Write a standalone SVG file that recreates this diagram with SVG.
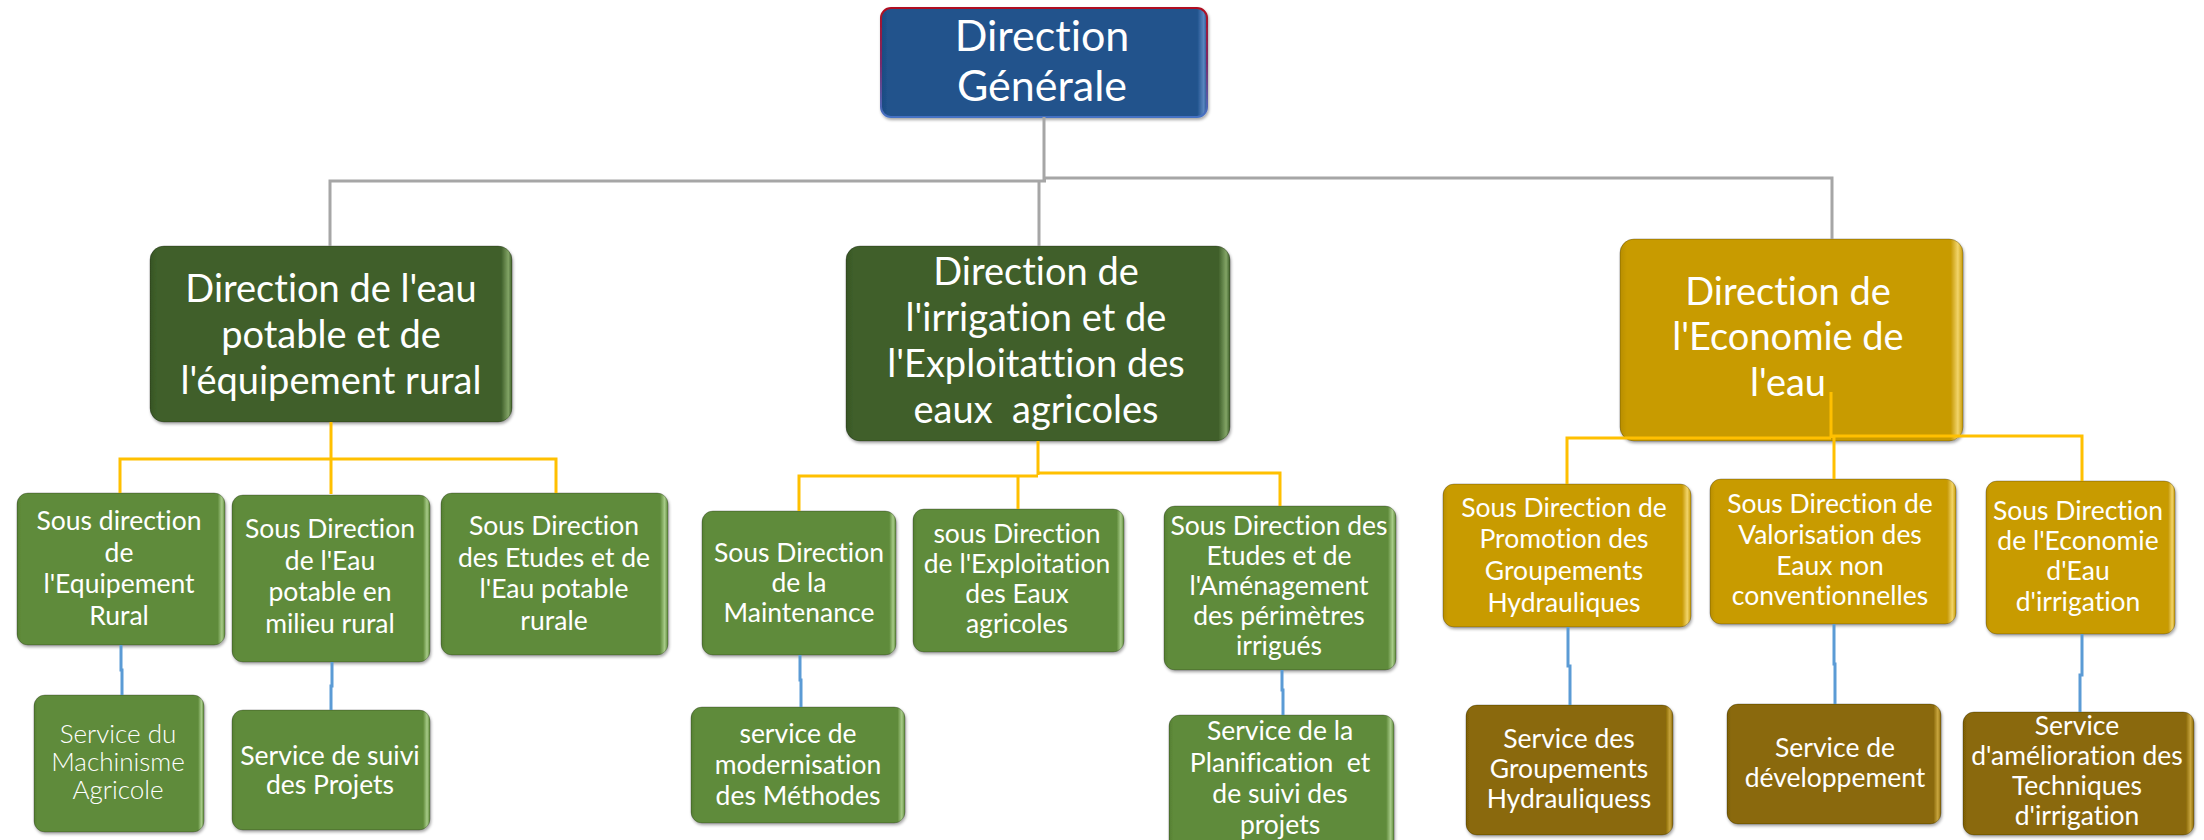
<svg xmlns="http://www.w3.org/2000/svg" width="2204" height="840" viewBox="0 0 2204 840">
<defs>
<linearGradient id="gBlue" x1="0" y1="0" x2="1" y2="0"><stop offset="0" stop-color="#1C4A80"/><stop offset="0.02" stop-color="#20528C"/><stop offset="0.97" stop-color="#20528C"/><stop offset="0.99" stop-color="#5B86C0"/><stop offset="1" stop-color="#20528C"/></linearGradient>
<linearGradient id="sBlue" x1="0" y1="0" x2="0" y2="1"><stop offset="0" stop-color="#B01020"/><stop offset="0.5" stop-color="#7A2A6A"/><stop offset="1" stop-color="#4472C4"/></linearGradient>
<linearGradient id="gDark" x1="0" y1="0" x2="1" y2="0"><stop offset="0" stop-color="#375524"/><stop offset="0.02" stop-color="#3F5F2A"/><stop offset="0.97" stop-color="#3F5F2A"/><stop offset="0.99" stop-color="#82A466"/><stop offset="1" stop-color="#3F5F2A"/></linearGradient>
<linearGradient id="gMid" x1="0" y1="0" x2="1" y2="0"><stop offset="0" stop-color="#557F33"/><stop offset="0.02" stop-color="#5F8B3A"/><stop offset="0.965" stop-color="#5F8B3A"/><stop offset="0.985" stop-color="#A7CB88"/><stop offset="1" stop-color="#5F8B3A"/></linearGradient>
<linearGradient id="gGold" x1="0" y1="0" x2="1" y2="0"><stop offset="0" stop-color="#B88E04"/><stop offset="0.02" stop-color="#C89B06"/><stop offset="0.965" stop-color="#C89B06"/><stop offset="0.985" stop-color="#F2D46A"/><stop offset="1" stop-color="#C89B06"/></linearGradient>
<linearGradient id="gBrown" x1="0" y1="0" x2="1" y2="0"><stop offset="0" stop-color="#7C5E06"/><stop offset="0.02" stop-color="#8A6907"/><stop offset="0.965" stop-color="#8A6907"/><stop offset="0.985" stop-color="#C9A63E"/><stop offset="1" stop-color="#8A6907"/></linearGradient>
<filter id="sh" x="-5%" y="-5%" width="112%" height="115%"><feDropShadow dx="1" dy="2" stdDeviation="1.5" flood-color="#000" flood-opacity="0.35"/></filter>
</defs>
<style>
rect{stroke:rgba(0,0,0,0.25);stroke-width:1;filter:url(#sh)}
text{font-family:Lato,"Open Sans","Liberation Sans",sans-serif;fill:#fff;text-anchor:middle;font-variant-ligatures:none;font-feature-settings:"liga" 0,"clig" 0}
.t0{font-size:43px}
.t1{font-size:38px}
.t2{font-size:26.5px}
.lt{font-weight:300;font-size:26px}
.c{fill:none;stroke-width:3}
.gray{stroke:#A6A6A6}
.yel{stroke:#FFC000}
.blu{stroke:#5B9BD5}
</style>

<g id="dg"><rect x="881" y="8" width="326" height="109" rx="10" fill="url(#gBlue)" style="stroke:url(#sBlue);stroke-width:2"/>
<text class="t0" x="1042"><tspan x="1042" y="51">Direction</tspan><tspan x="1042" y="101">Générale</tspan></text></g>

<g id="d1"><rect x="150" y="246" width="362" height="176" rx="14" fill="url(#gDark)"/>
<text class="t1"><tspan x="331" y="302">Direction de l'eau</tspan><tspan x="331" y="348">potable et de</tspan><tspan x="331" y="394">l'équipement rural</tspan></text></g>

<g id="d2"><rect x="846" y="246" width="384" height="195" rx="14" fill="url(#gDark)"/>
<text class="t1" xml:space="preserve"><tspan x="1036" y="285">Direction de</tspan><tspan x="1036" y="331">l'irrigation et de</tspan><tspan x="1036" y="377">l'Exploitattion des</tspan><tspan x="1036" y="423">eaux  agricoles</tspan></text></g>

<g id="d3"><rect x="1620" y="239" width="343" height="202" rx="14" fill="url(#gGold)"/>
<text class="t1"><tspan x="1788" y="305">Direction de</tspan><tspan x="1788" y="350">l'Economie de</tspan><tspan x="1788" y="396">l'eau</tspan></text></g>

<g id="sd1a"><rect x="17" y="493" width="208" height="152" rx="11" fill="url(#gMid)"/>
<text class="t2"><tspan x="119" y="530">Sous direction</tspan><tspan x="119" y="562">de</tspan><tspan x="119" y="593">l'Equipement</tspan><tspan x="119" y="625">Rural</tspan></text></g>

<g id="sd1b"><rect x="232" y="495" width="198" height="167" rx="11" fill="url(#gMid)"/>
<text class="t2"><tspan x="330" y="538">Sous Direction</tspan><tspan x="330" y="570">de l'Eau</tspan><tspan x="330" y="601">potable en</tspan><tspan x="330" y="633">milieu rural</tspan></text></g>

<g id="sd1c"><rect x="441" y="493" width="227" height="162" rx="11" fill="url(#gMid)"/>
<text class="t2"><tspan x="554" y="535">Sous Direction</tspan><tspan x="554" y="567">des Etudes et de</tspan><tspan x="554" y="598">l'Eau potable</tspan><tspan x="554" y="630">rurale</tspan></text></g>

<g id="s1a"><rect x="34" y="695" width="170" height="137" rx="11" fill="url(#gMid)"/>
<text class="lt"><tspan x="118" y="743">Service du</tspan><tspan x="118" y="771">Machinisme</tspan><tspan x="118" y="799">Agricole</tspan></text></g>

<g id="s1b"><rect x="232" y="710" width="198" height="120" rx="11" fill="url(#gMid)"/>
<text class="t2"><tspan x="330" y="765">Service de suivi</tspan><tspan x="330" y="794">des Projets</tspan></text></g>

<g id="sd2a"><rect x="702" y="511" width="194" height="144" rx="11" fill="url(#gMid)"/>
<text class="t2"><tspan x="799" y="562">Sous Direction</tspan><tspan x="799" y="592">de la</tspan><tspan x="799" y="622">Maintenance</tspan></text></g>

<g id="sd2b"><rect x="913" y="509" width="211" height="143" rx="11" fill="url(#gMid)"/>
<text class="t2"><tspan x="1017" y="543">sous Direction</tspan><tspan x="1017" y="573">de l'Exploitation</tspan><tspan x="1017" y="603">des Eaux</tspan><tspan x="1017" y="633">agricoles</tspan></text></g>

<g id="sd2c"><rect x="1164" y="506" width="232" height="164" rx="11" fill="url(#gMid)"/>
<text class="t2"><tspan x="1279" y="535">Sous Direction des</tspan><tspan x="1279" y="565">Etudes et de</tspan><tspan x="1279" y="595">l'Aménagement</tspan><tspan x="1279" y="625">des périmètres</tspan><tspan x="1279" y="655">irrigués</tspan></text></g>

<g id="s2a"><rect x="691" y="707" width="214" height="116" rx="11" fill="url(#gMid)"/>
<text class="t2"><tspan x="798" y="743">service de</tspan><tspan x="798" y="774">modernisation</tspan><tspan x="798" y="805">des Méthodes</tspan></text></g>

<g id="s2c"><rect x="1169" y="715" width="225" height="137" rx="11" fill="url(#gMid)"/>
<text class="t2" xml:space="preserve"><tspan x="1280" y="740">Service de la</tspan><tspan x="1280" y="772">Planification  et</tspan><tspan x="1280" y="803">de suivi des</tspan><tspan x="1280" y="834">projets</tspan></text></g>

<g id="sd3a"><rect x="1443" y="484" width="248" height="143" rx="11" fill="url(#gGold)"/>
<text class="t2"><tspan x="1564" y="517">Sous Direction de</tspan><tspan x="1564" y="548">Promotion des</tspan><tspan x="1564" y="580">Groupements</tspan><tspan x="1564" y="612">Hydrauliques</tspan></text></g>

<g id="sd3b"><rect x="1710" y="479" width="246" height="145" rx="11" fill="url(#gGold)"/>
<text class="t2"><tspan x="1830" y="513">Sous Direction de</tspan><tspan x="1830" y="544">Valorisation des</tspan><tspan x="1830" y="575">Eaux non</tspan><tspan x="1830" y="605">conventionnelles</tspan></text></g>

<g id="sd3c"><rect x="1986" y="481" width="189" height="153" rx="11" fill="url(#gGold)"/>
<text class="t2"><tspan x="2078" y="520">Sous Direction</tspan><tspan x="2078" y="550">de l'Economie</tspan><tspan x="2078" y="580">d'Eau</tspan><tspan x="2078" y="611">d'irrigation</tspan></text></g>

<g id="s3a"><rect x="1466" y="705" width="207" height="130" rx="11" fill="url(#gBrown)"/>
<text class="t2"><tspan x="1569" y="748">Service des</tspan><tspan x="1569" y="778">Groupements</tspan><tspan x="1569" y="808">Hydrauliquess</tspan></text></g>

<g id="s3b"><rect x="1727" y="704" width="214" height="120" rx="11" fill="url(#gBrown)"/>
<text class="t2"><tspan x="1835" y="757">Service de</tspan><tspan x="1835" y="787">développement</tspan></text></g>

<g id="s3c"><rect x="1963" y="712" width="231" height="123" rx="11" fill="url(#gBrown)"/>
<text class="t2"><tspan x="2077" y="735">Service</tspan><tspan x="2077" y="765">d'amélioration des</tspan><tspan x="2077" y="795">Techniques</tspan><tspan x="2077" y="825">d'irrigation</tspan></text></g>

<g id="connectors">
<path class="c gray" d="M1044 117 V181 M330 246 V181 H1046 M1044 178 H1832 V239 M1039 181 V246"/>
<path class="c yel" d="M331 422 V459 M120 493 V459 H556 V493 M331 459 V494"/>
<path class="c yel" d="M1038 441 V475 M799 511 V476 H1038 M1038 473 H1280 V506 M1018 476 V509"/>
<path class="c yel" d="M1831 392 V438 M1567 484 V438 H1831 M1831 436 H2082 V481 M1834 436 V479"/>
<path class="c blu" d="M121 645 V670 H122 V695 M332 662 V686 H331 V710"/>
<path class="c blu" d="M800 655 V680 H801 V707 M1282 670 V690 H1283 V715"/>
<path class="c blu" d="M1568 627 V666 H1570 V705 M1834 624 V664 H1835 V704 M2082 634 V675 H2080 V712"/>
</g>
</svg>
